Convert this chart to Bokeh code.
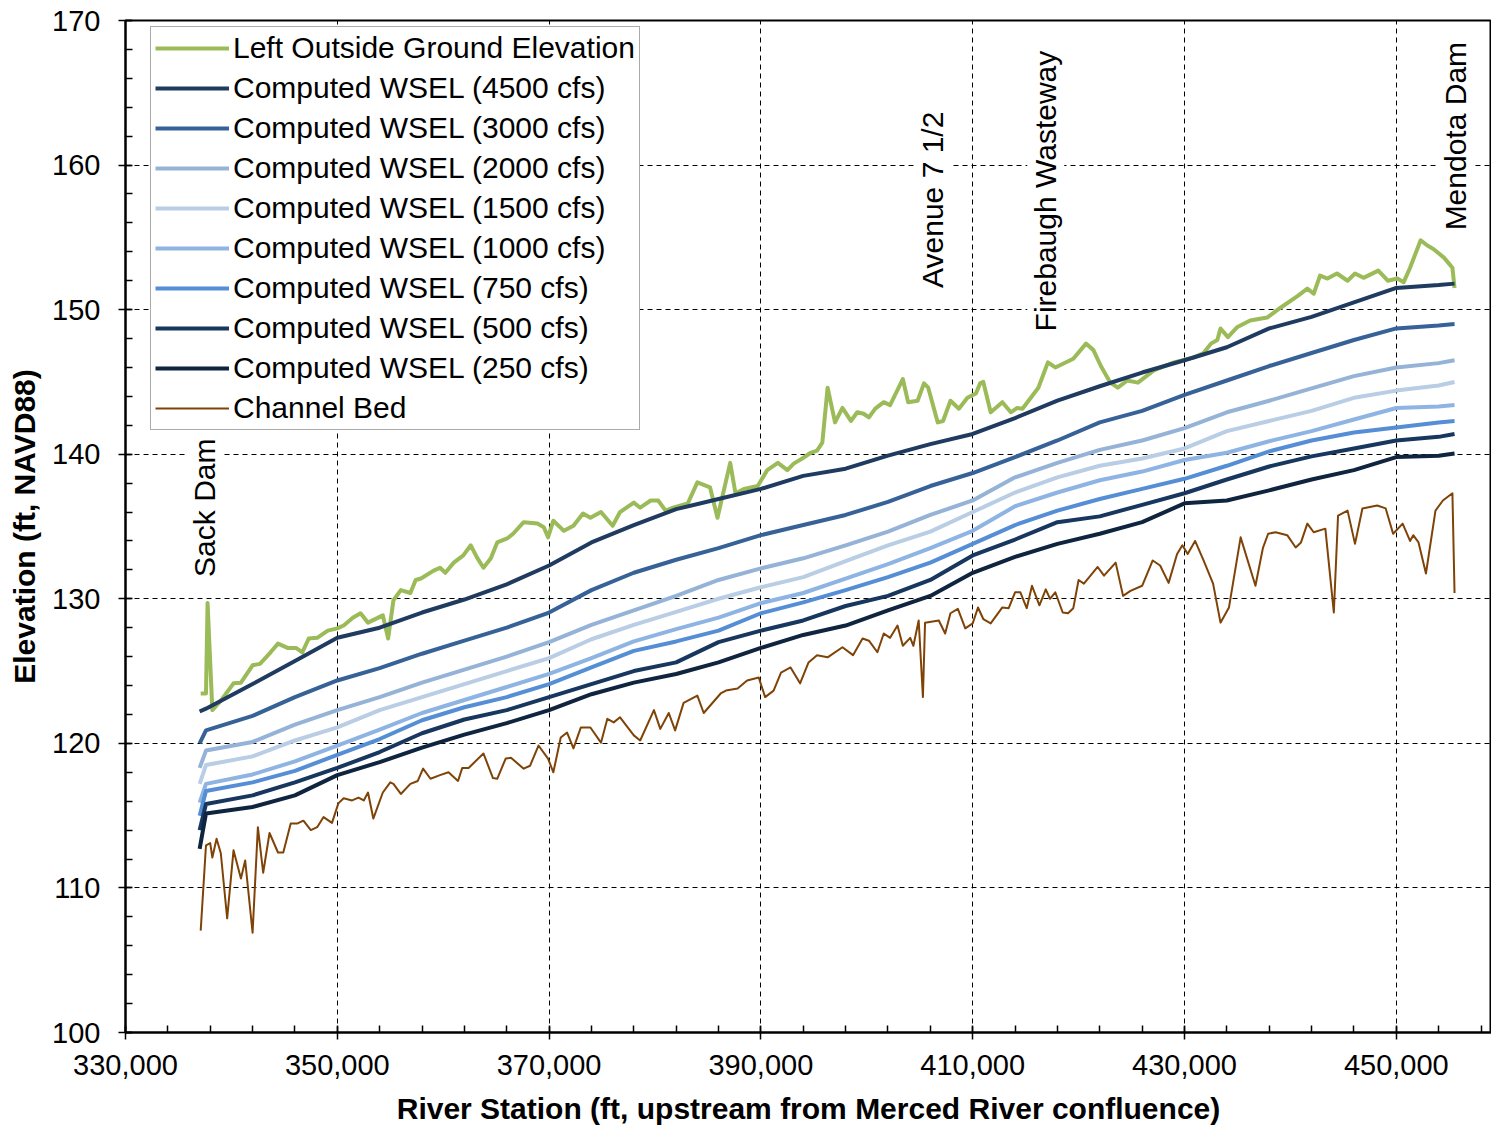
from math import pi
from bokeh.plotting import figure
from bokeh.models import (Legend, LegendItem, FixedTicker, NumeralTickFormatter,
                          ColumnDataSource, Range1d)
from bokeh.core.properties import value
from bokeh.embed import file_html
from bokeh.resources import INLINE

# ---------------- data ----------------
wsel_station = [337000, 337600, 342000, 346000, 350000, 354000, 358000, 362000,
                366000, 370000, 374000, 378000, 382000, 386000, 390000, 394000,
                398000, 402000, 406000, 410000, 414000, 418000, 422000, 426000,
                430000, 434000, 438000, 442000, 446000, 450000, 454000, 455500]

wsel_4500 = [122.2, 122.4, 124.1, 125.7, 127.3, 128.0, 129.05, 129.95, 131.0, 132.3,
             133.9, 135.1, 136.2, 136.9, 137.6, 138.5, 139.0, 139.9, 140.7, 141.4,
             142.5, 143.7, 144.7, 145.65, 146.5, 147.4, 148.7, 149.5, 150.5, 151.5,
             151.7, 151.8]
wsel_3000 = [120.0, 120.9, 121.9, 123.2, 124.35, 125.2, 126.2, 127.1, 128.0, 129.05,
             130.6, 131.8, 132.7, 133.5, 134.4, 135.1, 135.8, 136.7, 137.8, 138.7,
             139.8, 140.95, 142.2, 143.0, 144.1, 145.1, 146.1, 147.0, 147.9, 148.7,
             148.9, 149.0]
wsel_2000 = [118.3, 119.5, 120.1, 121.3, 122.3, 123.2, 124.2, 125.1, 126.0, 127.0,
             128.2, 129.2, 130.2, 131.3, 132.1, 132.8, 133.7, 134.65, 135.8, 136.8,
             138.4, 139.4, 140.3, 140.95, 141.8, 142.9, 143.7, 144.55, 145.4, 146.0,
             146.3, 146.5]
wsel_1500 = [117.2, 118.5, 119.1, 120.2, 121.1, 122.3, 123.2, 124.1, 125.0, 125.9,
             127.2, 128.2, 129.1, 130.0, 130.8, 131.5, 132.6, 133.7, 134.65, 136.0,
             137.35, 138.4, 139.2, 139.7, 140.4, 141.6, 142.3, 143.0, 143.9, 144.4,
             144.75, 145.0]
wsel_1000 = [115.9, 117.2, 117.85, 118.75, 119.85, 120.95, 122.1, 123.0, 123.9, 124.8,
             125.9, 127.05, 127.9, 128.7, 129.7, 130.4, 131.4, 132.4, 133.5, 134.7,
             136.4, 137.35, 138.2, 138.8, 139.6, 140.1, 140.9, 141.6, 142.4, 143.2,
             143.3, 143.4]
wsel_750 = [115.0, 116.7, 117.3, 118.1, 119.2, 120.3, 121.6, 122.5, 123.2, 124.1,
            125.25, 126.4, 127.05, 127.8, 129.0, 129.75, 130.6, 131.5, 132.5, 133.8,
            135.1, 136.1, 136.9, 137.6, 138.3, 139.2, 140.2, 140.95, 141.5, 141.85,
            142.2, 142.3]
wsel_500 = [114.0, 115.8, 116.4, 117.3, 118.3, 119.4, 120.7, 121.65, 122.3, 123.2,
            124.1, 125.0, 125.6, 127.0, 127.8, 128.5, 129.5, 130.2, 131.3, 133.0,
            134.1, 135.3, 135.7, 136.5, 137.3, 138.25, 139.15, 139.85, 140.4, 140.95,
            141.2, 141.4]
wsel_250 = [112.7, 115.15, 115.6, 116.4, 117.8, 118.7, 119.7, 120.6, 121.4, 122.3,
            123.4, 124.2, 124.8, 125.6, 126.6, 127.5, 128.15, 129.2, 130.2, 131.8,
            132.9, 133.8, 134.5, 135.3, 136.6, 136.8, 137.5, 138.25, 138.9, 139.8,
            139.9, 140.05]

ground_station = [337100, 337600, 337750, 338200, 339000, 340200, 340900, 342000, 342700, 343700,
                  344400, 345300, 346100, 346700, 347300, 348100, 349100, 350000, 350600, 351500,
                  352200, 352900, 354300, 354800, 355300, 356000, 356900, 357400, 357900, 359100,
                  359700, 360200, 361000, 361900, 362600, 363200, 363800, 364500, 365100, 366100,
                  366600, 367600, 368900, 369500, 369900, 370400, 371400, 372300, 373200, 373900,
                  374900, 376000, 376700, 378000, 378600, 379600, 380300, 381000, 381700, 383100,
                  384000, 385200, 385900, 387100, 387600, 388400, 389700, 390600, 391600, 392500,
                  393100, 393900, 394700, 395300, 395800, 396300, 397000, 397700, 398500, 399100,
                  399700, 400200, 400800, 401600, 402200, 403400, 403900, 404800, 405400, 405800,
                  406700, 407200, 407900, 408700, 409500, 410300, 410700, 411000, 411700, 412800,
                  413600, 414200, 414700, 416200, 417100, 417800, 419500, 420700, 421400, 422100,
                  423000, 423700, 424600, 425600, 427100, 429000, 430900, 431800, 432500, 433100,
                  433400, 434100, 435000, 436200, 437800, 439100, 440700, 441600, 442200, 442800,
                  443500, 444400, 445400, 446100, 446900, 448300, 449200, 450100, 450700, 451300,
                  452300, 452900, 453500, 454500, 455300, 455500]
ground_elev = [123.45, 123.45, 129.7, 122.3, 122.95, 124.15, 124.2, 125.4, 125.5, 126.3,
               126.9, 126.6, 126.6, 126.3, 127.25, 127.3, 127.8, 127.95, 128.15, 128.7,
               129.0, 128.35, 128.85, 127.25, 129.9, 130.6, 130.4, 131.3, 131.4, 131.95,
               132.15, 131.8, 132.5, 133.0, 133.7, 132.85, 132.15, 132.8, 133.9, 134.2,
               134.5, 135.3, 135.2, 134.95, 134.25, 135.4, 134.7, 135.05, 135.9, 135.6,
               136.0, 135.05, 136.0, 136.65, 136.3, 136.8, 136.8, 136.1, 136.3, 136.6,
               138.05, 137.7, 135.6, 139.4, 137.3, 137.6, 137.8, 138.9, 139.4, 138.9,
               139.35, 139.7, 140.1, 140.25, 140.8, 144.6, 142.2, 143.2, 142.3, 142.9,
               142.8, 142.55, 143.15, 143.6, 143.4, 145.2, 143.6, 143.7, 144.9, 144.6,
               142.2, 142.3, 143.7, 143.15, 143.9, 144.2, 144.9, 145.0, 142.9, 143.6,
               142.9, 143.2, 143.15, 144.6, 146.35, 146.0, 146.6, 147.65, 147.2, 146.1,
               144.95, 144.6, 145.1, 144.95, 145.8, 146.35, 146.7, 147.0, 147.65, 147.9,
               148.7, 148.1, 148.8, 149.25, 149.45, 150.15, 150.95, 151.45, 151.1, 152.35,
               152.15, 152.5, 152.0, 152.5, 152.2, 152.7, 152.0, 152.15, 151.9, 152.9,
               154.8, 154.45, 154.2, 153.6, 152.9, 151.5]

bed_station = [337100, 337600, 338000, 338200, 338600, 339000, 339600, 340200, 340900, 341300,
               342000, 342500, 343000, 343600, 344400, 344900, 345600, 346200, 346800, 347500,
               348100, 348700, 349500, 350100, 350600, 351400, 352000, 352500, 352900, 353400,
               354300, 355000, 355300, 356000, 356900, 357600, 358100, 358800, 359700, 360500,
               361400, 361800, 362400, 363800, 364700, 365100, 365900, 366400, 367600, 368200,
               369000, 369900, 370400, 371100, 371700, 372300, 373000, 373900, 374900, 375500,
               376100, 376700, 378000, 378600, 379900, 380500, 381300, 381900, 382700, 384000,
               384600, 386200, 386700, 387800, 388700, 389800, 390400, 391200, 391900, 392800,
               393700, 394500, 395300, 396300, 397700, 398700, 399600, 400200, 401000, 401600,
               402200, 402900, 403400, 404100, 404400, 404900, 405300, 405500, 406800, 407400,
               407900, 408600, 409300, 410000, 410500, 411000, 411700, 412800, 413400, 414000,
               414500, 415100, 415600, 416300, 416900, 417300, 417800, 418500, 419000, 419500,
               420000, 420500, 421800, 422400, 423500, 424200, 424900, 426000, 427000, 427700,
               428500, 429300, 429800, 430300, 431000, 431800, 432700, 433400, 434200, 435300,
               436700, 437400, 437900, 438600, 439700, 440500, 441000, 441600, 442200, 443300,
               444100, 444500, 445400, 446100, 446800, 448200, 449000, 449700, 450600, 451300,
               451600, 452100, 452800, 453700, 454400, 455300, 455500]
bed_elev = [107.05, 112.95, 113.1, 112.1, 113.4, 112.4, 107.9, 112.6, 110.65, 111.9,
            106.9, 114.2, 111.05, 113.8, 112.45, 112.45, 114.45, 114.45, 114.65, 114.0,
            114.2, 114.9, 114.5, 115.85, 116.2, 116.05, 116.25, 116.05, 116.6, 114.8,
            116.6, 117.3, 117.2, 116.5, 117.2, 117.4, 118.25, 117.55, 117.8, 118.0,
            117.4, 118.3, 118.3, 119.3, 117.6, 117.55, 118.95, 119.0, 118.25, 118.45,
            119.85, 118.95, 118.0, 120.4, 120.75, 119.65, 121.1, 121.1, 120.05, 121.7,
            121.45, 121.8, 120.55, 120.2, 122.3, 121.0, 122.1, 120.9, 122.8, 123.3,
            122.1, 123.45, 123.65, 123.8, 124.35, 124.55, 123.2, 123.65, 124.9, 125.25,
            124.15, 125.6, 126.1, 125.95, 126.65, 126.1, 127.25, 127.1, 126.3, 127.6,
            127.3, 128.15, 126.75, 127.3, 126.75, 128.5, 123.2, 128.35, 128.5, 127.6,
            129.0, 129.3, 127.95, 128.3, 129.4, 128.6, 128.3, 129.4, 129.35, 130.45,
            130.45, 129.35, 130.9, 129.55, 130.65, 130.0, 130.45, 129.05, 129.0, 129.35,
            131.3, 131.05, 132.2, 131.6, 132.5, 130.2, 130.55, 130.9, 132.65, 132.3,
            131.1, 133.1, 133.7, 133.1, 134.0, 132.65, 131.05, 128.35, 129.4, 134.25,
            130.9, 133.5, 134.5, 134.6, 134.4, 133.55, 133.9, 135.2, 134.6, 134.85,
            129.05, 135.75, 136.1, 133.8, 136.25, 136.45, 136.25, 134.5, 135.2, 134.0,
            134.4, 133.9, 131.75, 136.1, 136.8, 137.3, 130.4]

landmark_names = ["Sack Dam", "Avenue 7 1/2", "Firebaugh Wasteway", "Mendota Dam"]
landmark_station = [337500, 406200, 416900, 455600]
landmark_elev = [136.3, 157.6, 158.2, 162.0]

x_major = [330000, 350000, 370000, 390000, 410000, 430000, 450000]
x_minor = list(range(330000, 458001, 4000))
y_major = [100, 110, 120, 130, 140, 150, 160, 170]
y_minor = list(range(100, 171, 2))

series = [
    ("Left Outside Ground Elevation", ground_station, ground_elev, "#9BBB59", 4),
    ("Computed WSEL (4500 cfs)", wsel_station, wsel_4500, "#1F3B60", 4),
    ("Computed WSEL (3000 cfs)", wsel_station, wsel_3000, "#376298", 4),
    ("Computed WSEL (2000 cfs)", wsel_station, wsel_2000, "#95B3D7", 4),
    ("Computed WSEL (1500 cfs)", wsel_station, wsel_1500, "#B9CDE5", 4),
    ("Computed WSEL (1000 cfs)", wsel_station, wsel_1000, "#8EB4E3", 4),
    ("Computed WSEL (750 cfs)", wsel_station, wsel_750, "#558ED5", 4),
    ("Computed WSEL (500 cfs)", wsel_station, wsel_500, "#17375E", 4),
    ("Computed WSEL (250 cfs)", wsel_station, wsel_250, "#0F243E", 4),
    ("Channel Bed", bed_station, bed_elev, "#7F4308", 2),
]

FONT = "Liberation Sans"

p = figure(width=1491, height=1127, output_backend="svg", toolbar_location=None,
           x_range=Range1d(330000, 458990), y_range=Range1d(100, 170),
           min_border_left=125, min_border_right=0, min_border_top=20, min_border_bottom=95)
p.background_fill_color = "white"
p.border_fill_color = "white"
p.outline_line_color = "black"
p.outline_line_width = 2

items = []
for label, xs, ys, color, lw in series:
    src = ColumnDataSource(dict(x=xs, y=ys))
    r = p.line("x", "y", source=src, line_color=color, line_width=lw, line_join="round")
    items.append(LegendItem(label=label, renderers=[r]))

p.text(x=landmark_station, y=landmark_elev, text=landmark_names, angle=pi / 2,
       text_align="center", text_baseline="middle", text_font=value(FONT),
       text_font_size="30px", text_color="black",
       background_fill_color="white", padding=2)

legend = Legend(items=items, location=(25, 602), margin=0, padding=4, spacing=6,
                glyph_width=74, glyph_height=30, label_height=30, label_standoff=4,
                label_text_font=FONT, label_text_font_size="30px", label_text_color="black",
                border_line_color="#555555", border_line_width=1.5,
                background_fill_color="white", background_fill_alpha=1.0)
p.add_layout(legend, "center")

xa = p.xaxis[0]
xa.ticker = FixedTicker(ticks=x_major, minor_ticks=x_minor)
xa.formatter = NumeralTickFormatter(format="0,0")
xa.axis_label = "River Station (ft, upstream from Merced River confluence)"
ya = p.yaxis[0]
ya.ticker = FixedTicker(ticks=y_major, minor_ticks=y_minor)
ya.axis_label = "Elevation (ft, NAVD88)"

for ax in (xa, ya):
    ax.axis_line_color = "black"
    ax.axis_line_width = 2
    ax.major_tick_line_color = "black"
    ax.major_tick_line_width = 1.5
    ax.major_tick_in = 6
    ax.major_tick_out = 7
    ax.minor_tick_line_color = "black"
    ax.minor_tick_line_width = 1.5
    ax.minor_tick_in = 7
    ax.minor_tick_out = 0
    ax.major_label_text_font = FONT
    ax.major_label_text_font_size = "29px"
    ax.major_label_text_color = "black"
    ax.axis_label_text_font = FONT
    ax.axis_label_text_font_size = "30px"
    ax.axis_label_text_font_style = "bold"
    ax.axis_label_text_color = "black"

xa.major_label_standoff = 15
xa.axis_label_standoff = 14
ya.major_label_standoff = 18
ya.axis_label_standoff = 8

for g in (p.xgrid[0], p.ygrid[0]):
    g.grid_line_color = "black"
    g.grid_line_dash = "5 4"
    g.grid_line_width = 1

open("out.html", "w").write(file_html(p, INLINE))
